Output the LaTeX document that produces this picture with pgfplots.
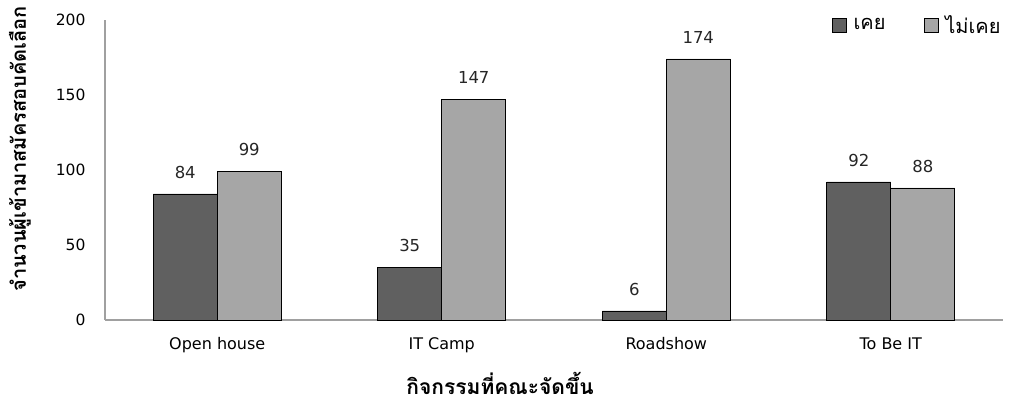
\documentclass[border=0pt]{standalone}
\usepackage{pgfplots}
\pgfplotsset{compat=1.18}
\usepackage{fontspec}
\setmainfont{DejaVu Sans}
\newfontfamily\thaifont[Script=Thai]{Loma}
\definecolor{dark}{HTML}{606060}
\definecolor{light}{HTML}{A6A6A6}
\definecolor{axisgray}{HTML}{A0A0A0}
\begin{document}
\begin{tikzpicture}
\begin{axis}[
    scale only axis,
    width=898pt, height=300pt,
    xmin=-0.5, xmax=3.5,
    ymin=0, ymax=200,
    ybar=0pt, bar width=64pt,
    axis x line*=bottom, axis y line*=left,
    axis line style={axisgray, line width=1.2pt, -},
    major tick length=0pt,
    xtick={0,1,2,3},
    xticklabels={Open house, IT Camp, Roadshow, To Be IT},
    ytick={0,50,100,150,200},
    /pgf/number format/assume math mode=true,
    xticklabel style={font=\fontsize{16}{19}\selectfont, yshift=-14pt},
    yticklabel style={font=\fontsize{15.5}{18}\selectfont, xshift=-16pt},
    xlabel={\thaifont\bfseries กิจกรรมที่คณะจัดขึ้น},
    ylabel={\thaifont\bfseries จำนวนผู้เข้ามาสมัครสอบคัดเลือก},
    xlabel style={font=\fontsize{21}{24}\selectfont, at={(axis description cs:0.44,-0.21)}, anchor=center},
    ylabel style={font=\fontsize{20}{24}\selectfont, at={(axis description cs:-0.0947,0.57)}, anchor=center},
    nodes near coords,
    every node near coord/.append style={font=\fontsize{16.5}{19}\selectfont, text=black!85, yshift=12pt},
    legend columns=2,
    legend style={draw=none, fill=none, at={(axis description cs:1.003,1.03)}, anchor=north east,
        font=\thaifont\fontsize{20}{23}\selectfont,
        /tikz/every even column/.append style={column sep=36pt}},
    legend image code/.code={\draw[#1] (0pt,-7pt) rectangle (14pt,7pt); \path (19pt,0pt);},
    clip=false,
]
\addplot[fill=dark, draw=black, line width=0.8pt] coordinates {(0,84) (1,35) (2,6) (3,92)};
\addplot[fill=light, draw=black, line width=0.8pt] coordinates {(0,99) (1,147) (2,174) (3,88)};
\legend{เคย, ไม่เคย}
\end{axis}
\pgfresetboundingbox
\path (current axis.south west) ++(-105pt,-83pt) rectangle ++(1011pt,403pt);
\end{tikzpicture}
\end{document}
